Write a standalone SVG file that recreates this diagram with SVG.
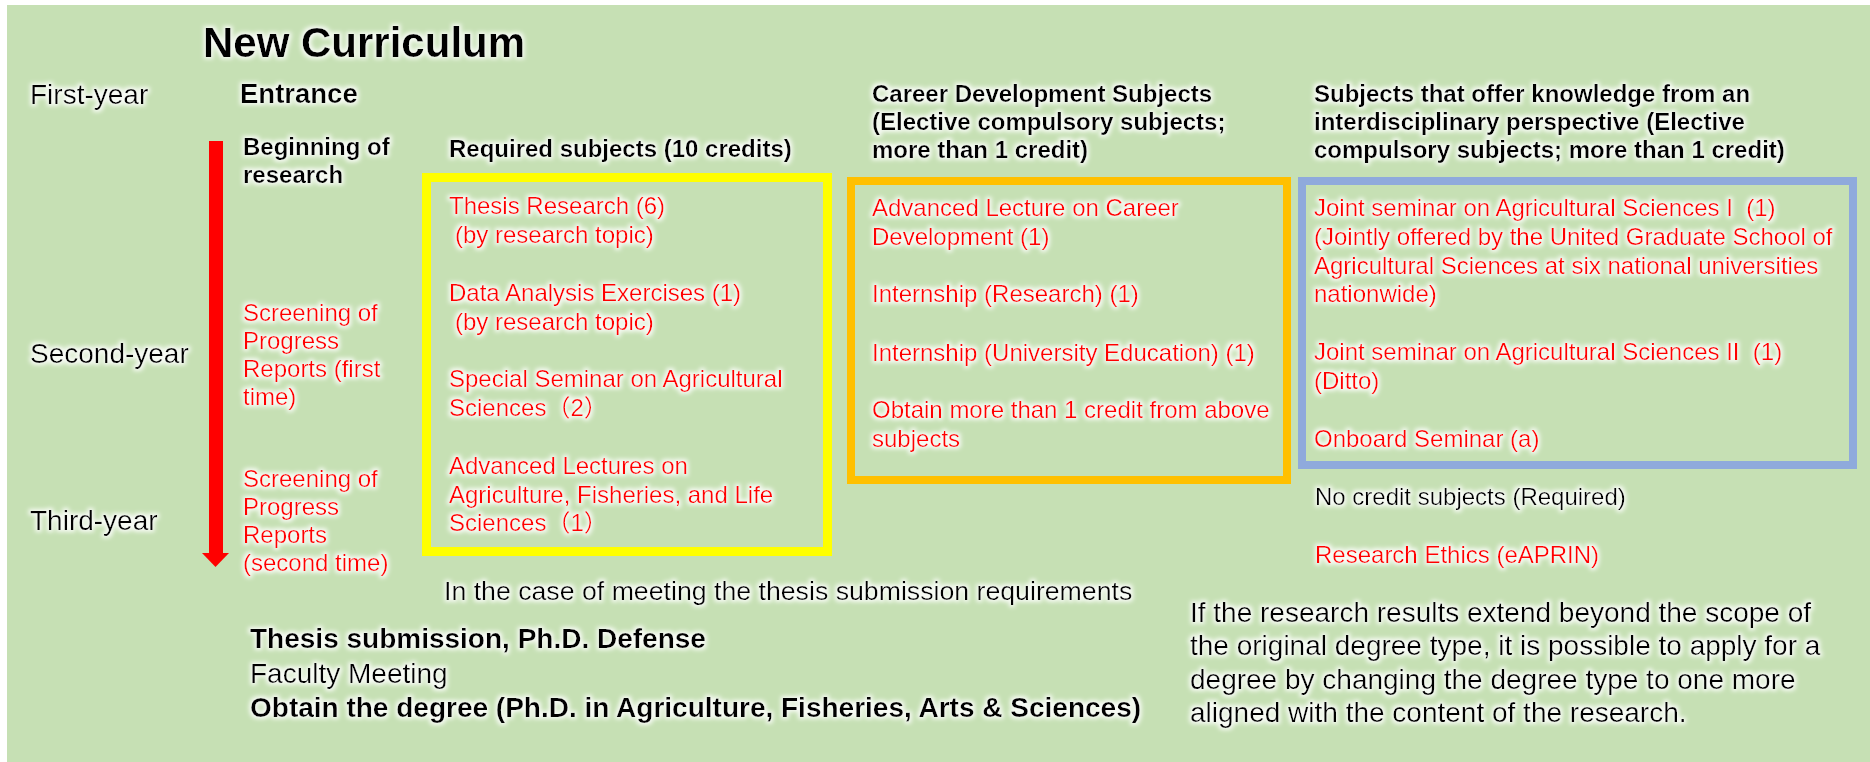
<svg xmlns="http://www.w3.org/2000/svg" width="1870" height="762" viewBox="0 0 1870 762">
<defs>
<filter id="glow" x="-5%" y="-20%" width="110%" height="140%">
<feMorphology in="SourceAlpha" operator="dilate" radius="1.5" result="d"/>
<feGaussianBlur in="d" stdDeviation="2" result="b"/>
<feFlood flood-color="#ffffff" flood-opacity="0.85"/>
<feComposite in2="b" operator="in" result="g"/>
<feMerge><feMergeNode in="g"/><feMergeNode in="SourceGraphic"/></feMerge>
</filter>
</defs>
<style>
text{font-family:"Liberation Sans",Arial,"Noto Sans CJK JP",sans-serif;font-size:24px;fill:#000}
.b{font-weight:bold}
.r{fill:#FF0000}
.yr{font-size:28px}
.en{font-size:27.5px}
.mid{font-size:26.7px}
.big{font-size:28px}
.t{font-size:42px;font-weight:bold}
.box{fill:none}
.txt{filter:url(#glow)}
</style>
<rect x="0" y="0" width="1870" height="762" fill="#ffffff"/>
<rect x="7" y="5" width="1863" height="757" fill="#C6E0B4"/>

<g id="title" class="txt"><text x="203" y="57" class="t">New Curriculum</text></g>

<g id="years" class="txt">
<text x="30" y="104" class="yr">First-year</text>
<text x="30" y="363" class="yr">Second-year</text>
<text x="30" y="530" class="yr">Third-year</text>
</g>

<g id="entrance" class="txt"><text x="240" y="103" class="b en">Entrance</text></g>

<g id="connectors">
<rect x="209" y="141" width="14" height="413" fill="#FF0000"/>
<polygon points="202,553 229,553 215.5,567" fill="#FF0000"/>
</g>

<g id="milestones" class="txt">
<text class="b"><tspan x="243" y="155">Beginning of</tspan><tspan x="243" y="183">research</tspan></text>
<text class="r"><tspan x="243" y="321">Screening of</tspan><tspan x="243" y="349">Progress</tspan><tspan x="243" y="377">Reports (first</tspan><tspan x="243" y="405">time)</tspan></text>
<text class="r"><tspan x="243" y="487">Screening of</tspan><tspan x="243" y="515">Progress</tspan><tspan x="243" y="543">Reports</tspan><tspan x="243" y="571">(second time)</tspan></text>
</g>

<g id="required">
<rect class="box" x="426.5" y="177.5" width="401" height="374" stroke="#FFFF00" stroke-width="9"/>
<g class="txt">
<text x="449" y="157" class="b">Required subjects (10 credits)</text>
<text class="r"><tspan x="449" y="214">Thesis Research (6)</tspan><tspan x="455" y="243">(by research topic)</tspan>
<tspan x="449" y="301">Data Analysis Exercises (1)</tspan><tspan x="455" y="330">(by research topic)</tspan>
<tspan x="449" y="387">Special Seminar on Agricultural</tspan><tspan x="449" y="416">Sciences（2）</tspan>
<tspan x="449" y="474">Advanced Lectures on</tspan><tspan x="449" y="503">Agriculture, Fisheries, and Life</tspan><tspan x="449" y="531">Sciences（1）</tspan></text>
</g>
</g>

<g id="career">
<rect class="box" x="851" y="181" width="436" height="299" stroke="#FFC000" stroke-width="8"/>
<g class="txt">
<text class="b"><tspan x="872" y="102">Career Development Subjects</tspan><tspan x="872" y="130">(Elective compulsory subjects;</tspan><tspan x="872" y="158">more than 1 credit)</tspan></text>
<text class="r"><tspan x="872" y="216">Advanced Lecture on Career</tspan><tspan x="872" y="245">Development (1)</tspan>
<tspan x="872" y="302">Internship (Research) (1)</tspan>
<tspan x="872" y="361">Internship (University Education) (1)</tspan>
<tspan x="872" y="418">Obtain more than 1 credit from above</tspan><tspan x="872" y="447">subjects</tspan></text>
</g>
</g>

<g id="interdisciplinary">
<rect class="box" x="1302" y="181" width="551" height="284" stroke="#8FAADC" stroke-width="8"/>
<g class="txt">
<text class="b"><tspan x="1314" y="102">Subjects that offer knowledge from an</tspan><tspan x="1314" y="130">interdisciplinary perspective (Elective</tspan><tspan x="1314" y="158">compulsory subjects; more than 1 credit)</tspan></text>
<text class="r" xml:space="preserve"><tspan x="1314" y="216">Joint seminar on Agricultural Sciences I  (1)</tspan><tspan x="1314" y="245">(Jointly offered by the United Graduate School of</tspan><tspan x="1314" y="274">Agricultural Sciences at six national universities</tspan><tspan x="1314" y="302">nationwide)</tspan><tspan x="1314" y="360">Joint seminar on Agricultural Sciences II  (1)</tspan><tspan x="1314" y="389">(Ditto)</tspan><tspan x="1314" y="447">Onboard Seminar (a)</tspan></text>
</g>
</g>

<g id="nocredit" class="txt">
<text x="1315" y="505">No credit subjects (Required)</text>
<text x="1315" y="563" class="r">Research Ethics (eAPRIN)</text>
</g>

<g id="note" class="txt">
<text class="big"><tspan x="1190" y="622">If the research results extend beyond the scope of</tspan><tspan x="1190" y="655">the original degree type, it is possible to apply for a</tspan><tspan x="1190" y="689">degree by changing the degree type to one more</tspan><tspan x="1190" y="722">aligned with the content of the research.</tspan></text>
</g>

<g id="condition" class="txt"><text x="444" y="600" class="mid">In the case of meeting the thesis submission requirements</text></g>

<g id="degree" class="txt">
<text x="250" y="648" class="b yr">Thesis submission, Ph.D. Defense</text>
<text x="250" y="683" class="yr">Faculty Meeting</text>
<text x="250" y="717" class="b yr">Obtain the degree (Ph.D. in Agriculture, Fisheries, Arts &amp; Sciences)</text>
</g>
</svg>
